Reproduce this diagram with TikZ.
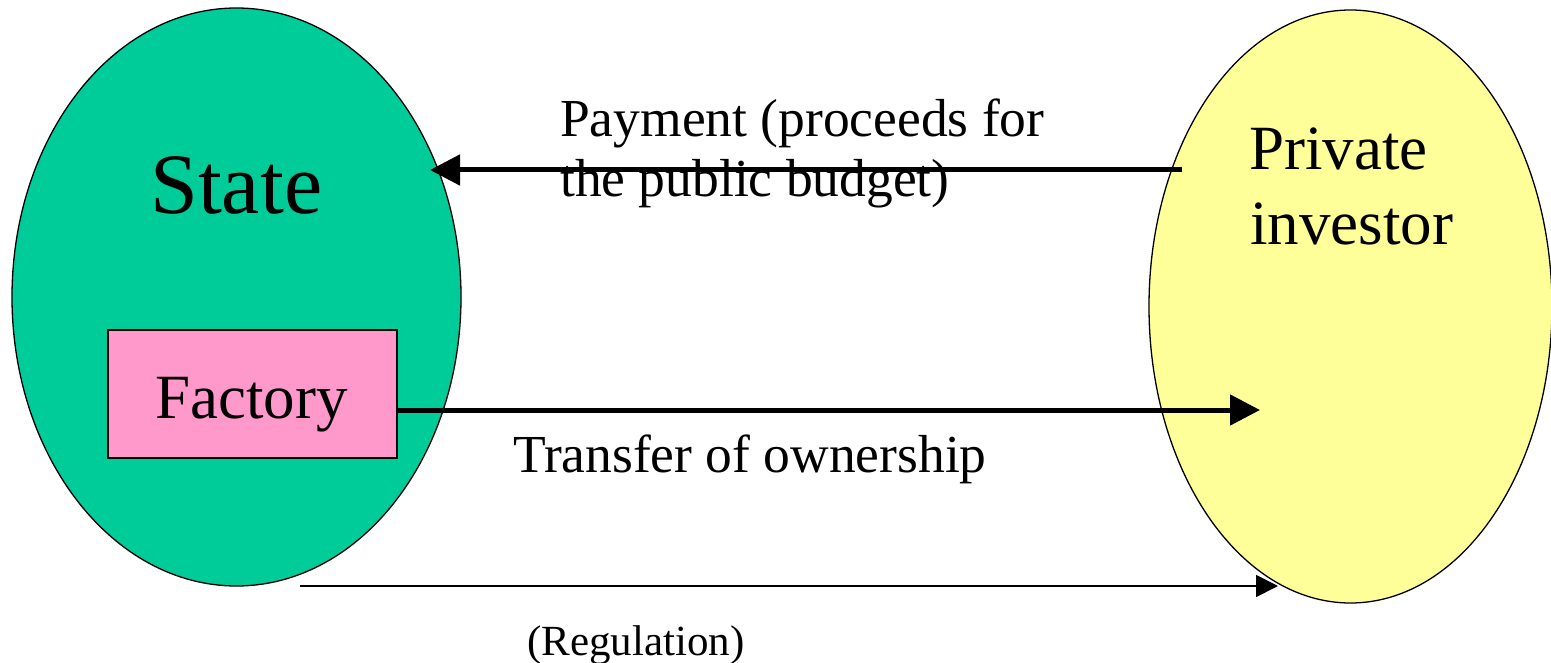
\documentclass[tikz,border=0pt]{standalone}
\usepackage{fontspec}
\setmainfont{Liberation Serif}
\usetikzlibrary{shapes.geometric,arrows.meta}
\definecolor{stategreen}{HTML}{00CC99}
\definecolor{factpink}{HTML}{FF99CC}
\definecolor{invyellow}{HTML}{FFFF99}
\begin{document}
\begin{tikzpicture}[x=1pt,y=-1pt,
  blob/.style={ellipse,draw=black,line width=1.3pt,inner sep=0pt},
  lbl/.style={anchor=base west,inner sep=0pt,text=black},
  bigarrow/.style={line width=5pt,-{Triangle[length=30pt,width=30pt]}},
  thinarrow/.style={line width=1.8pt,-{Triangle[length=22pt,width=22pt]}}]
\useasboundingbox (0,0) rectangle (1551,663);
\node[blob,fill=stategreen,minimum width=449pt,minimum height=578pt] (state) at (236.5,297) {};
\node[blob,fill=invyellow,minimum width=403pt,minimum height=593pt] (investor) at (1350.5,306.5) {};
\node[draw=black,line width=1.3pt,fill=factpink,minimum width=289pt,minimum height=128pt,inner sep=0pt] (factory) at (252.5,394) {};
\node[lbl,font=\fontsize{86}{90}\selectfont] (statetxt) at (150,214) {State};
\node[lbl,font=\fontsize{63}{75}\selectfont] (factorytxt) at (155,418) {Factory};
\node[lbl,font=\fontsize{63}{75}\selectfont] (privtxt) at (1249,170) {Private};
\node[lbl,font=\fontsize{63}{75}\selectfont] (invtxt) at (1250,245) {investor};
\node[lbl,font=\fontsize{53.5}{60}\selectfont] (pay1) at (560,137) {Payment (proceeds for};
\node[lbl,font=\fontsize{53.5}{60}\selectfont] (pay2) at (560,197) {the public budget)};
\node[lbl,font=\fontsize{53.5}{60}\selectfont] (transtxt) at (513,472) {Transfer of ownership};
\node[lbl,font=\fontsize{43}{50}\selectfont] (regtxt) at (527,655) {(Regulation)};
\coordinate (payfrom) at (1182,170);
\coordinate (payto) at (430,170);
\coordinate (transfrom) at (factory.east |- 0,410);
\coordinate (transto) at (1260,410);
\coordinate (regfrom) at (300,586);
\coordinate (regto) at (1278,586);
\draw[bigarrow] (payfrom) -- (payto);
\draw[bigarrow] (transfrom) -- (transto);
\draw[thinarrow] (regfrom) -- (regto);
\end{tikzpicture}
\end{document}
